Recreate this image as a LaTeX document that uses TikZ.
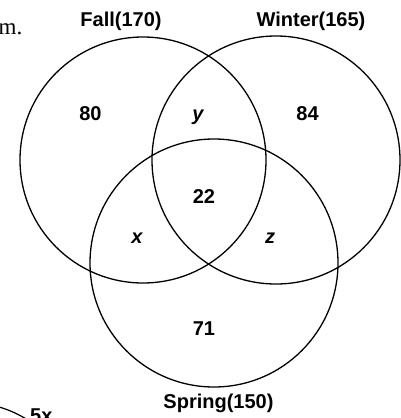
\documentclass[tikz,border=0pt]{standalone}
\usepackage{fontspec}
\setmainfont{Liberation Sans}
\newfontfamily\serifm{Liberation Serif}
\begin{document}
\begin{tikzpicture}[x=1pt,y=-1pt,
  ring/.style={draw=black,line width=1.3pt},
  lbl/.style={font=\fontsize{20}{23}\selectfont\bfseries,anchor=base,inner sep=0pt},
  var/.style={font=\fontsize{20}{23}\selectfont\bfseries\itshape,anchor=base,inner sep=0pt}]
\useasboundingbox (0,0) rectangle (401,418);
\clip (0,0) rectangle (401,418);
% circles
\coordinate (cf) at (143,160);
\coordinate (cw) at (276,160);
\coordinate (cs) at (214,263);
\draw[ring] (cf) circle (123);
\draw[ring] (cw) circle (124);
\draw[ring] (cs) circle (124);
% set labels
\node[lbl] (fall) at (121,26) {Fall(170)};
\node[lbl] (winter) at (311,26) {Winter(165)};
\node[lbl] (spring) at (218.5,408) {Spring(150)};
% region values
\node[lbl] (n80) at (90.5,120) {80};
\node[lbl] (n84) at (307.5,120) {84};
\node[var] (ny) at (198,120) {y};
\node[lbl] (n22) at (204,203) {22};
\node[var] (nx) at (137,243) {x};
\node[var] (nz) at (270,243) {z};
\node[lbl] (n71) at (204,335) {71};
% fragments at page edges
\node[font=\fontsize{23}{26}\selectfont\serifm,anchor=base east,inner sep=0pt] (mdot) at (22.5,34) {m.};
\coordinate (a1) at (-8,405);
\coordinate (a2) at (28,420);
\draw[line width=1.2pt] (a1) .. controls (8,409) and (18,414) .. (a2);
\node[lbl,anchor=base west] (five) at (30,422) {5x};
\end{tikzpicture}
\end{document}
